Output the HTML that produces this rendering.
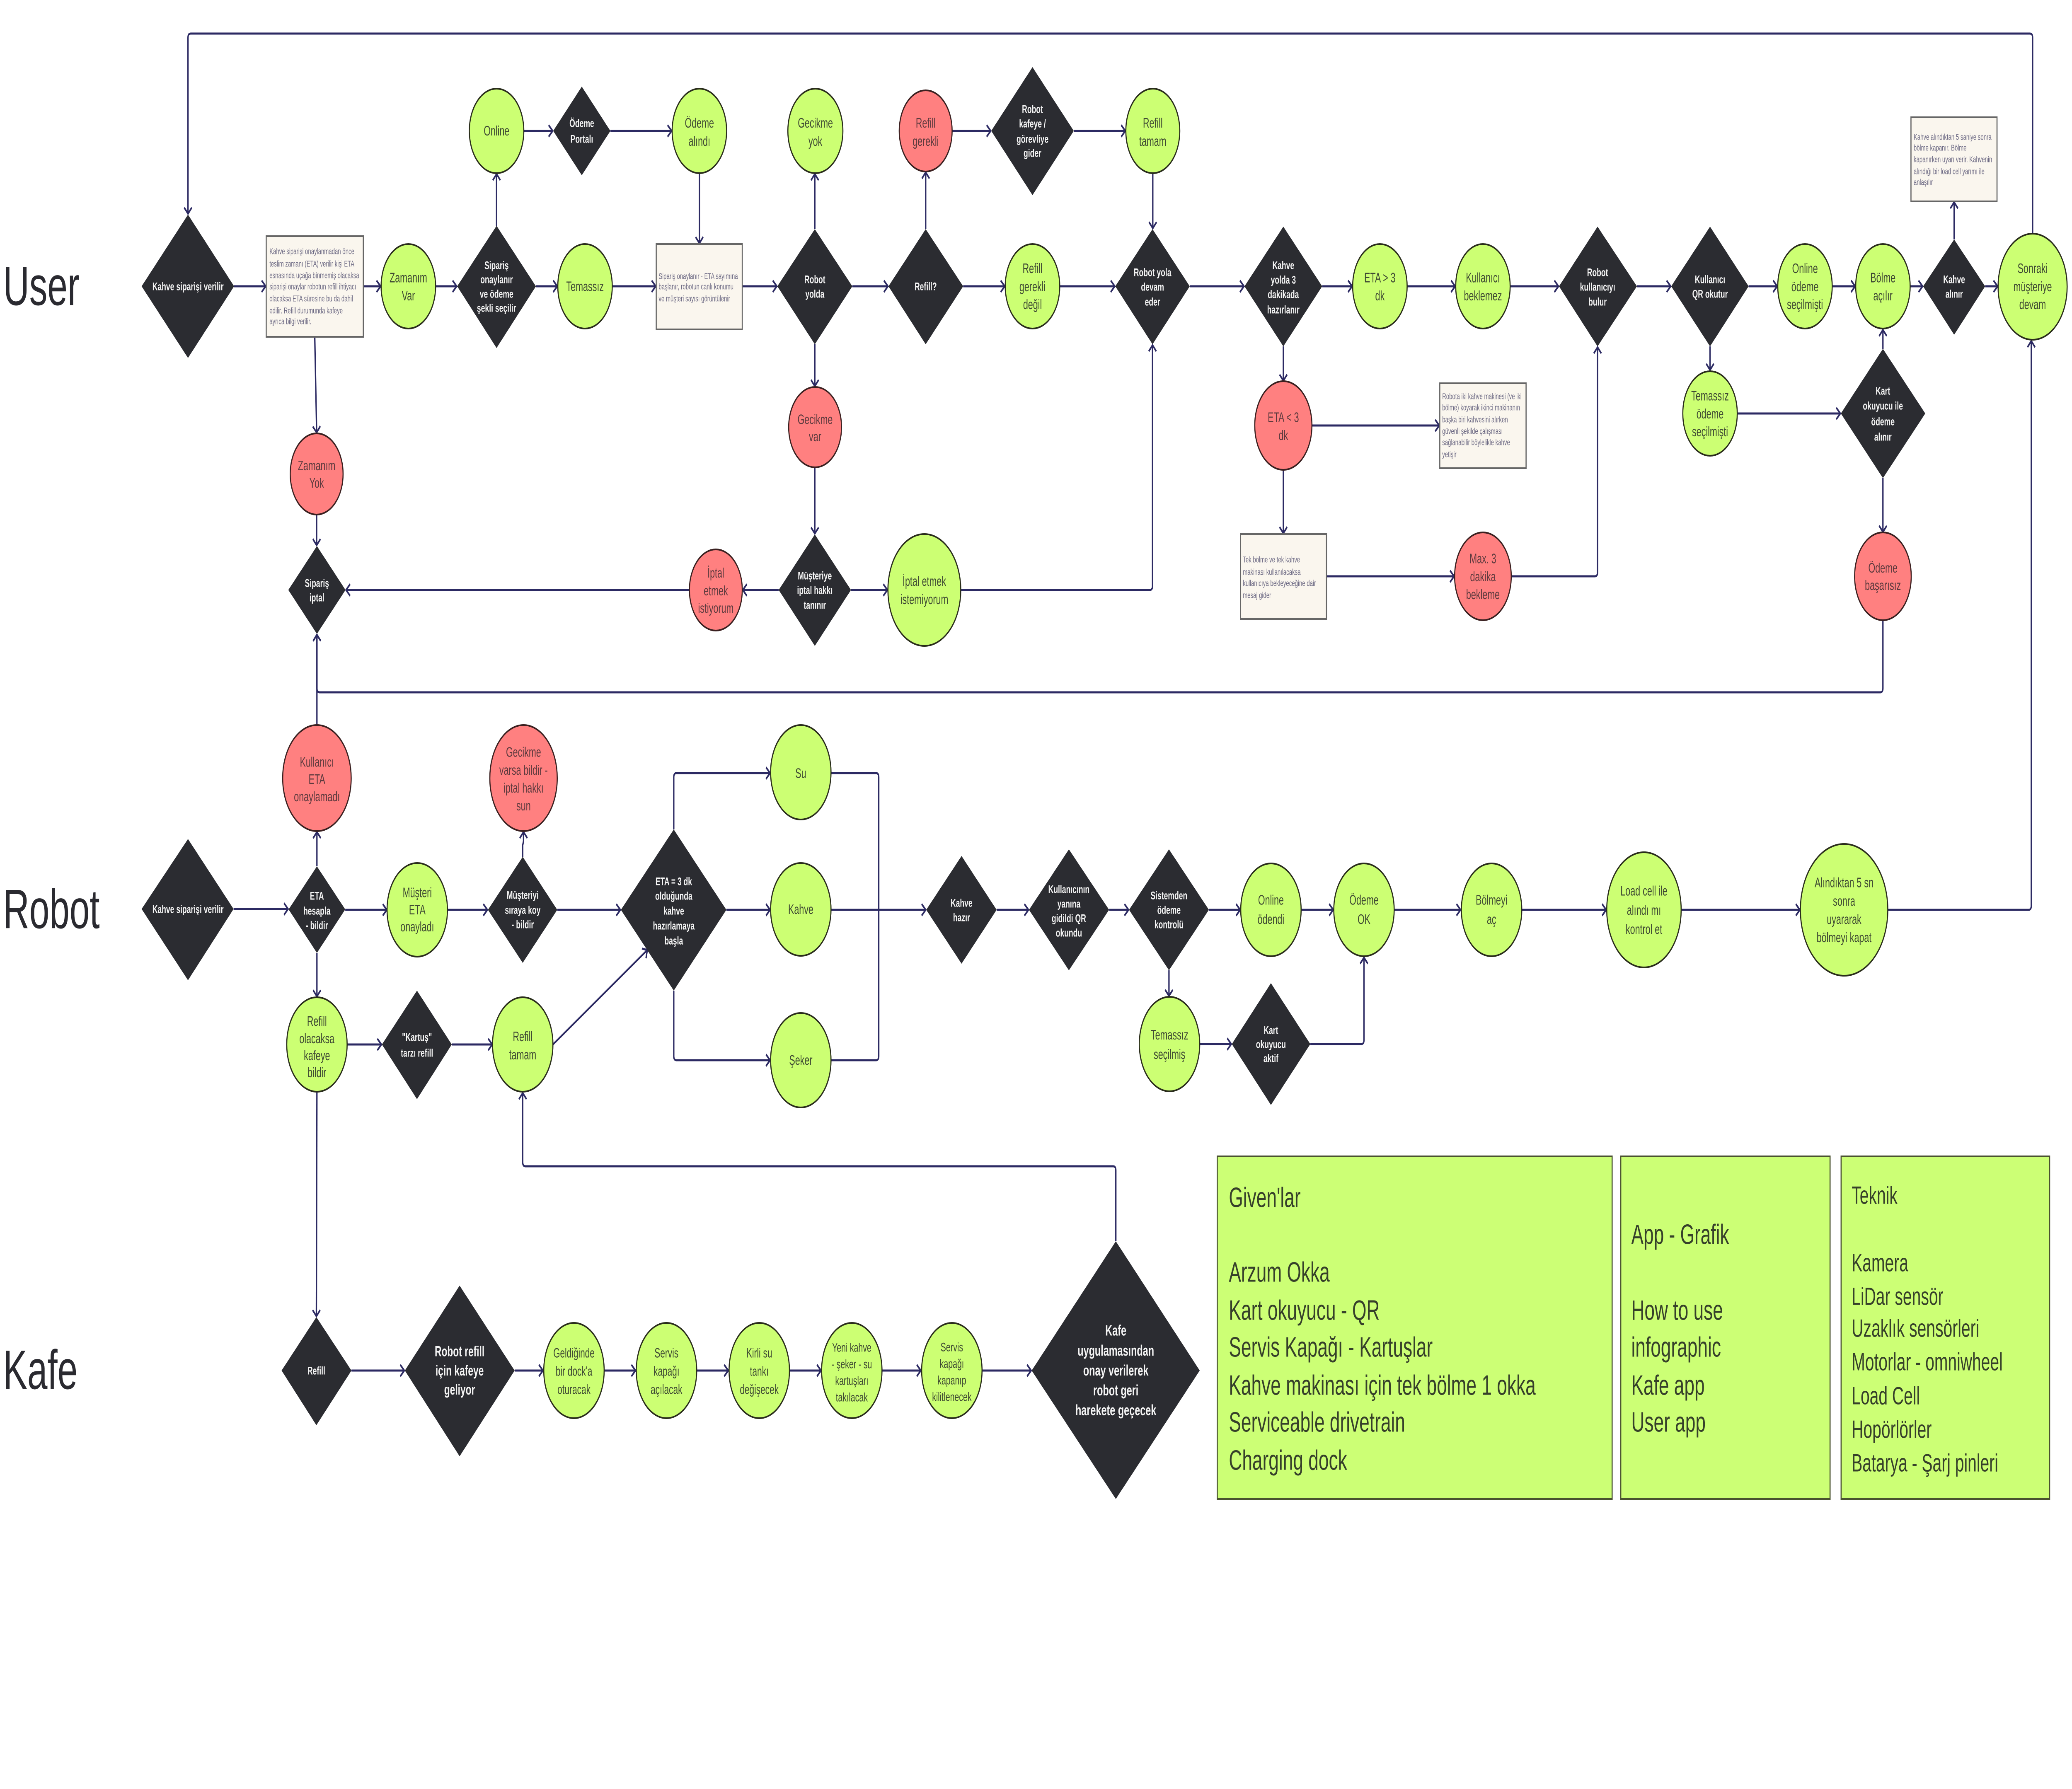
<!DOCTYPE html>
<html lang="tr"><head><meta charset="utf-8"><title>Kahve robotu akış diyagramı</title>
<style>
html,body{margin:0;padding:0;background:#fff;width:100%;height:100%;overflow:hidden}
svg{display:block;position:fixed;left:0;top:0;width:100vw;height:100vh}
text{font-family:"Liberation Sans",sans-serif;dominant-baseline:central}
.dt text{text-anchor:middle;font-weight:700;fill:#f4f4f4;font-size:27px}
.gt text{text-anchor:middle;fill:#3f4a33;font-size:33px}
.rt text{text-anchor:middle;fill:#5e3a3e;font-size:33px}
.nt text{fill:#6d6a84;font-size:20.3px}
.bt text{fill:#36402a;font-size:68px}
.lb text{fill:#2a2a30;font-size:134px}
.l path{fill:none;stroke:#2c2a63;stroke-width:5;marker-end:url(#a)}
.n path{fill:none;stroke:#2c2a63;stroke-width:5}
.d polygon{fill:#2b2c31}
.g ellipse{fill:#ccff73;stroke:#2a2d1c;stroke-width:4}
.r ellipse{fill:#ff8080;stroke:#3a2020;stroke-width:4}
.o rect{fill:#faf6ee;stroke:#666;stroke-width:4}
.b rect{fill:#ccff75;stroke:#4a5230;stroke-width:4}
</style></head><body>
<svg xmlns="http://www.w3.org/2000/svg" viewBox="0 0 7682 4318" preserveAspectRatio="none">
<defs><marker id="a" markerUnits="userSpaceOnUse" markerWidth="40" markerHeight="40" viewBox="-30 -20 40 40" refX="0" refY="0" orient="auto"><path d="M-15,-14 L0,0 L-15,14" fill="none" stroke="#2c2a63" stroke-width="5"/></marker></defs>
<rect width="7682" height="4318" fill="#fff"/>

<g class="n">
<path d="M3082,1866 H3248 Q3258,1866 3258,1876 V2549 Q3258,2559 3248,2559 H3082"/>
</g>
<g class="l">
<path d="M7536,564 V91 Q7536,81 7526,81 H707 Q697,81 697,91 V516"/>
<path d="M868,691 H985"/><path d="M1348,691 H1411"/><path d="M1615,691 H1693"/>
<path d="M1841,545 V420"/><path d="M1942,316 H2049"/><path d="M2263,316 H2490"/><path d="M2593,418 V587"/>
<path d="M1987,691 H2066"/><path d="M2271,691 H2431"/><path d="M2752,691 H2880"/>
<path d="M3021,553 V420"/><path d="M3160,691 H3292"/><path d="M3432,553 V416"/>
<path d="M3530,316 H3673"/><path d="M3981,316 H4172"/><path d="M4274,418 V551"/>
<path d="M3571,691 H3725"/><path d="M3930,691 H4133"/><path d="M4411,691 H4612"/>
<path d="M4902,691 H5013"/><path d="M5218,691 H5395"/><path d="M5599,691 H5778"/>
<path d="M6069,691 H6194"/><path d="M6483,691 H6589"/><path d="M6793,691 H6878"/>
<path d="M7082,691 H7128"/><path d="M7360,691 H7406"/><path d="M7245,578 V488"/>
<path d="M6340,836 V893"/><path d="M6441,998 H6823"/><path d="M6981,842 V796"/><path d="M6981,1154 V1284"/>
<path d="M6981,1497 V1661 Q6981,1671 6971,1671 H1185 Q1175,1671 1175,1661 V1532"/>
<path d="M1175,1750 V1532"/>
<path d="M4758,836 V919"/><path d="M4864,1027 H5336"/><path d="M4758,1134 V1287"/><path d="M4918,1391 H5391"/>
<path d="M5604,1391 H5913 Q5923,1391 5923,1381 V838"/>
<path d="M3021,831 V932"/><path d="M3021,1127 V1288"/><path d="M3155,1424 H3290"/>
<path d="M3562,1424 H4263 Q4273,1424 4273,1414 V833"/>
<path d="M2887,1424 H2754"/><path d="M2556,1424 H1283"/>
<path d="M1167,813 L1174,1044"/><path d="M1174,1242 V1316"/>

<path d="M866,2194 H1068"/><path d="M1175,2091 V2008"/><path d="M1280,2196 H1434"/><path d="M1659,2196 H1807"/>
<path d="M1938,2068 V2040 L1941,2030 V2008"/><path d="M2066,2196 H2300"/>
<path d="M2498,2002 V1876 Q2498,1866 2508,1866 H2855"/>
<path d="M2693,2196 H2855"/>
<path d="M2498,2391 V2549 Q2498,2559 2508,2559 H2855"/>
<path d="M3082,2196 H3432"/>
<path d="M1175,2300 V2405"/><path d="M1288,2521 H1414"/><path d="M1675,2521 H1825"/>
<path d="M2050,2521 L2400,2293"/>
<path d="M1175,2636 L1173,3177"/>
<path d="M3695,2196 H3813"/><path d="M4112,2196 H4184"/><path d="M4482,2196 H4598"/><path d="M4825,2196 H4943"/>
<path d="M5170,2196 H5415"/><path d="M5642,2196 H5955"/><path d="M6234,2196 H6673"/>
<path d="M6999,2196 H7521 Q7531,2196 7531,2186 V823"/>
<path d="M4334,2342 V2404"/><path d="M4449,2520 H4565"/>
<path d="M4858,2520 H5047 Q5057,2520 5057,2510 V2311"/>
<path d="M1303,3308 H1499"/><path d="M1908,3308 H2013"/><path d="M2240,3308 H2356"/><path d="M2584,3308 H2700"/>
<path d="M2928,3308 H3044"/><path d="M3271,3308 H3414"/><path d="M3642,3308 H3823"/>
<path d="M4137,2996 V2825 Q4137,2815 4127,2815 H1948 Q1938,2815 1938,2805 V2638"/>
</g>

<g class="d">
<polygon points="697,518 868,691 697,864 525,691"/>
<polygon points="1841,545 1987,691 1841,840 1695,691"/>
<polygon points="2157,209 2263,316 2157,423 2051,316"/>
<polygon points="1175,1318 1281,1424 1175,1530 1069,1424"/>
<polygon points="3021,553 3160,691 3021,831 2882,691"/>
<polygon points="3021,1290 3155,1424 3021,1559 2887,1424"/>
<polygon points="3432,553 3571,691 3432,831 3294,691"/>
<polygon points="3828,162 3981,316 3828,471 3675,316"/>
<polygon points="4273,553 4411,691 4273,831 4135,691"/>
<polygon points="4758,547 4902,691 4758,836 4614,691"/>
<polygon points="5923,547 6069,691 5923,836 5780,691"/>
<polygon points="6340,547 6483,691 6340,836 6196,691"/>
<polygon points="7245,578 7360,691 7245,808 7130,691"/>
<polygon points="6981,842 7138,998 6981,1154 6825,998"/>
<polygon points="697,2025 866,2194 697,2366 525,2194"/>
<polygon points="1175,2091 1280,2195 1175,2300 1070,2195"/>
<polygon points="1938,2068 2066,2196 1938,2324 1809,2196"/>
<polygon points="2498,2002 2693,2196 2498,2391 2302,2196"/>
<polygon points="1546,2391 1675,2521 1546,2653 1416,2521"/>
<polygon points="3565,2066 3695,2196 3565,2326 3434,2196"/>
<polygon points="3963,2050 4112,2196 3963,2342 3815,2196"/>
<polygon points="4334,2050 4482,2196 4334,2342 4186,2196"/>
<polygon points="4712,2373 4858,2520 4712,2667 4567,2520"/>
<polygon points="1173,3179 1303,3308 1173,3440 1044,3308"/>
<polygon points="1704,3103 1908,3308 1704,3515 1501,3308"/>
<polygon points="4137,2996 4448,3308 4137,3618 3825,3308"/>
</g>

<g class="g">
<ellipse cx="1514" cy="691" rx="101" ry="102"/><ellipse cx="1841" cy="316" rx="101" ry="102"/>
<ellipse cx="2593" cy="316" rx="101" ry="102"/><ellipse cx="2169" cy="691" rx="101" ry="102"/>
<ellipse cx="3023" cy="316" rx="102" ry="102"/><ellipse cx="4274" cy="316" rx="100" ry="102"/>
<ellipse cx="3828" cy="691" rx="101" ry="102"/><ellipse cx="5116" cy="691" rx="101" ry="102"/>
<ellipse cx="3427" cy="1424" rx="135" ry="135"/><ellipse cx="5498" cy="691" rx="101" ry="102"/>
<ellipse cx="6692" cy="691" rx="101" ry="102"/><ellipse cx="6981" cy="691" rx="101" ry="102"/>
<ellipse cx="7536" cy="692" rx="128" ry="128"/><ellipse cx="6340" cy="998" rx="101" ry="102"/>
<ellipse cx="1547" cy="2196" rx="112" ry="113"/><ellipse cx="2969" cy="1864" rx="112" ry="114"/>
<ellipse cx="2969" cy="2195" rx="112" ry="112"/><ellipse cx="2969" cy="2559" rx="112" ry="114"/>
<ellipse cx="1175" cy="2521" rx="112" ry="114"/><ellipse cx="1938" cy="2521" rx="112" ry="114"/>
<ellipse cx="4712" cy="2196" rx="112" ry="112"/><ellipse cx="5057" cy="2196" rx="112" ry="112"/>
<ellipse cx="5530" cy="2196" rx="112" ry="112"/><ellipse cx="6095" cy="2196" rx="138" ry="139"/>
<ellipse cx="6837" cy="2196" rx="162" ry="159"/><ellipse cx="4336" cy="2520" rx="112" ry="114"/>
<ellipse cx="2128" cy="3308" rx="112" ry="115"/><ellipse cx="2471" cy="3308" rx="112" ry="115"/>
<ellipse cx="2815" cy="3308" rx="112" ry="115"/><ellipse cx="3158" cy="3308" rx="112" ry="115"/>
<ellipse cx="3529" cy="3308" rx="112" ry="115"/>
</g>
<g class="r">
<ellipse cx="1174" cy="1144" rx="98" ry="98"/><ellipse cx="2654" cy="1424" rx="98" ry="98"/>
<ellipse cx="3432" cy="316" rx="98" ry="98"/><ellipse cx="3022" cy="1031" rx="98" ry="97"/>
<ellipse cx="4758" cy="1027" rx="106" ry="107"/><ellipse cx="5498" cy="1391" rx="105" ry="106"/>
<ellipse cx="6981" cy="1391" rx="105" ry="106"/><ellipse cx="1175" cy="1878" rx="127" ry="128"/>
<ellipse cx="1941" cy="1878" rx="125" ry="128"/>
</g>
<g class="o">
<rect x="987" y="570" width="360" height="243"/><rect x="2433" y="589" width="319" height="206"/>
<rect x="4599" y="1289" width="319" height="205"/><rect x="5338" y="925" width="320" height="205"/>
<rect x="7085" y="283" width="319" height="203"/>
</g>
<g class="b">
<rect x="4513" y="2791" width="1464" height="827"/><rect x="6009" y="2791" width="776" height="827"/><rect x="6826" y="2791" width="773" height="827"/>
</g>

<g class="dt">
<text x="697" y="691">Kahve siparişi verilir</text>
<text x="1841" y="640">Sipariş<tspan x="1841" dy="34">onaylanır</tspan><tspan x="1841" dy="35">ve ödeme</tspan><tspan x="1841" dy="34">şekli seçilir</tspan></text>
<text x="2157" y="297">Ödeme<tspan x="2157" dy="38">Portalı</tspan></text>
<text x="1175" y="1407">Sipariş<tspan x="1175" dy="35">iptal</tspan></text>
<text x="3021" y="674">Robot<tspan x="3021" dy="35">yolda</tspan></text>
<text x="3021" y="1389">Müşteriye<tspan x="3021" dy="35">iptal hakkı</tspan><tspan x="3021" dy="36">tanınır</tspan></text>
<text x="3432" y="691">Refill?</text>
<text x="3828" y="263">Robot<tspan x="3828" dy="35">kafeye /</tspan><tspan x="3828" dy="37">görevliye</tspan><tspan x="3828" dy="34">gider</tspan></text>
<text x="4273" y="657">Robot yola<tspan x="4273" dy="35">devam</tspan><tspan x="4273" dy="36">eder</tspan></text>
<text x="4758" y="640">Kahve<tspan x="4758" dy="35">yolda 3</tspan><tspan x="4758" dy="35">dakikada</tspan><tspan x="4758" dy="37">hazırlanır</tspan></text>
<text x="5923" y="657">Robot<tspan x="5923" dy="35">kullanıcıyı</tspan><tspan x="5923" dy="36">bulur</tspan></text>
<text x="6340" y="674">Kullanıcı<tspan x="6340" dy="35">QR okutur</tspan></text>
<text x="7245" y="674">Kahve<tspan x="7245" dy="35">alınır</tspan></text>
<text x="6981" y="943">Kart<tspan x="6981" dy="36">okuyucu ile</tspan><tspan x="6981" dy="38">ödeme</tspan><tspan x="6981" dy="37">alınır</tspan></text>
<text x="697" y="2194">Kahve siparişi verilir</text>
<text x="1175" y="2162">ETA<tspan x="1175" dy="36">hesapla</tspan><tspan x="1175" dy="35">- bildir</tspan></text>
<text x="1938" y="2160">Müşteriyi<tspan x="1938" dy="36">sıraya koy</tspan><tspan x="1938" dy="35">- bildir</tspan></text>
<text x="2498" y="2127">ETA = 3 dk<tspan x="2498" dy="35">olduğunda</tspan><tspan x="2498" dy="36">kahve</tspan><tspan x="2498" dy="36">hazırlamaya</tspan><tspan x="2498" dy="36">başla</tspan></text>
<text x="1546" y="2503">"Kartuş"<tspan x="1546" dy="38">tarzı refill</tspan></text>
<text x="3565" y="2179">Kahve<tspan x="3565" dy="35">hazır</tspan></text>
<text x="3963" y="2146">Kullanıcının<tspan x="3963" dy="35">yanına</tspan><tspan x="3963" dy="35">gidildi QR</tspan><tspan x="3963" dy="35">okundu</tspan></text>
<text x="4334" y="2161">Sistemden<tspan x="4334" dy="35">ödeme</tspan><tspan x="4334" dy="35">kontrolü</tspan></text>
<text x="4712" y="2486">Kart<tspan x="4712" dy="34">okuyucu</tspan><tspan x="4712" dy="34">aktif</tspan></text>
<text x="1173" y="3308">Refill</text>
<text x="1704" y="3262" style="font-size:35px">Robot refill<tspan x="1704" dy="46">için kafeye</tspan><tspan x="1704" dy="46">geliyor</tspan></text>
<text x="4137" y="3212" style="font-size:36px">Kafe<tspan x="4137" dy="48">uygulamasından</tspan><tspan x="4137" dy="48">onay verilerek</tspan><tspan x="4137" dy="48">robot geri</tspan><tspan x="4137" dy="48">harekete geçecek</tspan></text>
</g>

<g class="gt">
<text x="1514" y="670">Zamanım<tspan x="1514" dy="43">Var</tspan></text>
<text x="1841" y="316">Online</text>
<text x="2593" y="297">Ödeme<tspan x="2593" dy="43">alındı</tspan></text>
<text x="2169" y="691">Temassız</text>
<text x="3023" y="297">Gecikme<tspan x="3023" dy="43">yok</tspan></text>
<text x="4274" y="297">Refill<tspan x="4274" dy="43">tamam</tspan></text>
<text x="3828" y="648">Refill<tspan x="3828" dy="43">gerekli</tspan><tspan x="3828" dy="43">değil</tspan></text>
<text x="5116" y="670">ETA &gt; 3<tspan x="5116" dy="43">dk</tspan></text>
<text x="3427" y="1403">İptal etmek<tspan x="3427" dy="43">istemiyorum</tspan></text>
<text x="5498" y="670">Kullanıcı<tspan x="5498" dy="43">beklemez</tspan></text>
<text x="6692" y="648">Online<tspan x="6692" dy="43">ödeme</tspan><tspan x="6692" dy="43">seçilmişti</tspan></text>
<text x="6981" y="670">Bölme<tspan x="6981" dy="43">açılır</tspan></text>
<text x="7536" y="648">Sonraki<tspan x="7536" dy="43">müşteriye</tspan><tspan x="7536" dy="43">devam</tspan></text>
<text x="6340" y="955">Temassız<tspan x="6340" dy="43">ödeme</tspan><tspan x="6340" dy="43">seçilmişti</tspan></text>
<text x="1547" y="2154">Müşteri<tspan x="1547" dy="41">ETA</tspan><tspan x="1547" dy="41">onayladı</tspan></text>
<text x="2969" y="1866">Su</text><text x="2969" y="2195">Kahve</text><text x="2969" y="2559">Şeker</text>
<text x="1175" y="2465">Refill<tspan x="1175" dy="41">olacaksa</tspan><tspan x="1175" dy="41">kafeye</tspan><tspan x="1175" dy="41">bildir</tspan></text>
<text x="1938" y="2502">Refill<tspan x="1938" dy="43">tamam</tspan></text>
<text x="4712" y="2172">Online<tspan x="4712" dy="46">ödendi</tspan></text>
<text x="5057" y="2172">Ödeme<tspan x="5057" dy="46">OK</tspan></text>
<text x="5530" y="2172">Bölmeyi<tspan x="5530" dy="46">aç</tspan></text>
<text x="6095" y="2150">Load cell ile<tspan x="6095" dy="46">alındı mı</tspan><tspan x="6095" dy="46">kontrol et</tspan></text>
<text x="6837" y="2130">Alındıktan 5 sn<tspan x="6837" dy="44">sonra</tspan><tspan x="6837" dy="44">uyararak</tspan><tspan x="6837" dy="44">bölmeyi kapat</tspan></text>
<text x="4336" y="2498">Temassız<tspan x="4336" dy="46">seçilmiş</tspan></text>
<text x="2128" y="3266" style="font-size:32px">Geldiğinde<tspan x="2128" dy="44">bir dock'a</tspan><tspan x="2128" dy="44">oturacak</tspan></text>
<text x="2471" y="3266" style="font-size:32px">Servis<tspan x="2471" dy="44">kapağı</tspan><tspan x="2471" dy="44">açılacak</tspan></text>
<text x="2815" y="3266" style="font-size:32px">Kirli su<tspan x="2815" dy="44">tankı</tspan><tspan x="2815" dy="44">değişecek</tspan></text>
<text x="3158" y="3253" style="font-size:30px">Yeni kahve<tspan x="3158" dy="40">- şeker - su</tspan><tspan x="3158" dy="40">kartuşları</tspan><tspan x="3158" dy="40">takılacak</tspan></text>
<text x="3529" y="3252" style="font-size:30px">Servis<tspan x="3529" dy="40">kapağı</tspan><tspan x="3529" dy="40">kapanıp</tspan><tspan x="3529" dy="40">kilitlenecek</tspan></text>
</g>

<g class="rt">
<text x="1174" y="1124">Zamanım<tspan x="1174" dy="41">Yok</tspan></text>
<text x="2654" y="1383">İptal<tspan x="2654" dy="42">etmek</tspan><tspan x="2654" dy="42">istiyorum</tspan></text>
<text x="3432" y="297">Refill<tspan x="3432" dy="43">gerekli</tspan></text>
<text x="3022" y="1012">Gecikme<tspan x="3022" dy="41">var</tspan></text>
<text x="4758" y="1007">ETA &lt;  3<tspan x="4758" dy="43">dk</tspan></text>
<text x="5498" y="1348">Max. 3<tspan x="5498" dy="43">dakika</tspan><tspan x="5498" dy="43">bekleme</tspan></text>
<text x="6981" y="1371">Ödeme<tspan x="6981" dy="41">başarısız</tspan></text>
<text x="1175" y="1839">Kullanıcı<tspan x="1175" dy="41">ETA</tspan><tspan x="1175" dy="42">onaylamadı</tspan></text>
<text x="1941" y="1815">Gecikme<tspan x="1941" dy="43">varsa bildir -</tspan><tspan x="1941" dy="43">iptal hakkı</tspan><tspan x="1941" dy="43">sun</tspan></text>
</g>

<g class="nt">
<text x="999" y="607">Kahve siparişi onaylanmadan önce</text>
<text x="999" y="637">teslim zamanı (ETA) verilir  kişi ETA</text>
<text x="999" y="665">esnasında uçağa binmemiş olacaksa</text>
<text x="999" y="692">siparişi onaylar robotun refill ihtiyacı</text>
<text x="999" y="721">olacaksa ETA süresine bu da dahil</text>
<text x="999" y="750">edilir. Refill durumunda kafeye</text>
<text x="999" y="776">ayrıca bilgi verilir.</text>
<text x="2442" y="667">Sipariş onaylanır - ETA sayımına</text>
<text x="2442" y="692">başlanır, robotun canlı konumu</text>
<text x="2442" y="721">ve müşteri sayısı görüntülenir</text>
<text x="4608" y="1351">Tek bölme ve tek kahve</text>
<text x="4608" y="1381">makinası kullanılacaksa</text>
<text x="4608" y="1408">kullanıcıya bekleyeceğine dair</text>
<text x="4608" y="1437">mesaj gider</text>
<text x="5347" y="957">Robota iki kahve makinesi (ve iki</text>
<text x="5347" y="984">bölme) koyarak ikinci makinanın</text>
<text x="5347" y="1013">başka biri kahvesini alırken</text>
<text x="5347" y="1041">güvenli şekilde çalışması</text>
<text x="5347" y="1068">sağlanabilir böylelikle kahve</text>
<text x="5347" y="1097">yetişir</text>
<text x="7095" y="331">Kahve alındıktan 5 saniye sonra</text>
<text x="7095" y="357">bölme kapanır. Bölme</text>
<text x="7095" y="385">kapanırken uyarı verir. Kahvenin</text>
<text x="7095" y="414">alındığı bir load cell yarımı ile</text>
<text x="7095" y="440">anlaşılır</text>
</g>

<g class="bt">
<text x="4556" y="2891">Given'lar</text>
<text x="4556" y="3071">Arzum Okka</text>
<text x="4556" y="3163">Kart okuyucu - QR</text>
<text x="4556" y="3252">Servis Kapağı - Kartuşlar</text>
<text x="4556" y="3344">Kahve makinası için tek bölme 1 okka</text>
<text x="4556" y="3433">Serviceable drivetrain</text>
<text x="4556" y="3525">Charging dock</text>
<text x="6048" y="2980">App - Grafik</text>
<text x="6048" y="3163">How to use</text>
<text x="6048" y="3252">infographic</text>
<text x="6048" y="3344">Kafe app</text>
<text x="6048" y="3433">User app</text>
<text x="6865" y="2885" style="font-size:60px">Teknik</text>
<text x="6865" y="3048" style="font-size:60px">Kamera</text>
<text x="6865" y="3129" style="font-size:60px">LiDar sensör</text>
<text x="6865" y="3206" style="font-size:60px">Uzaklık sensörleri</text>
<text x="6865" y="3287" style="font-size:60px">Motorlar - omniwheel</text>
<text x="6865" y="3369" style="font-size:60px">Load Cell</text>
<text x="6865" y="3450" style="font-size:60px">Hopörlörler</text>
<text x="6865" y="3531" style="font-size:60px">Batarya - Şarj pinleri</text>
</g>

<g class="lb">
<text x="12" y="690">User</text>
<text x="12" y="2194">Robot</text>
<text x="12" y="3306">Kafe</text>
</g>
</svg>
</body></html>
